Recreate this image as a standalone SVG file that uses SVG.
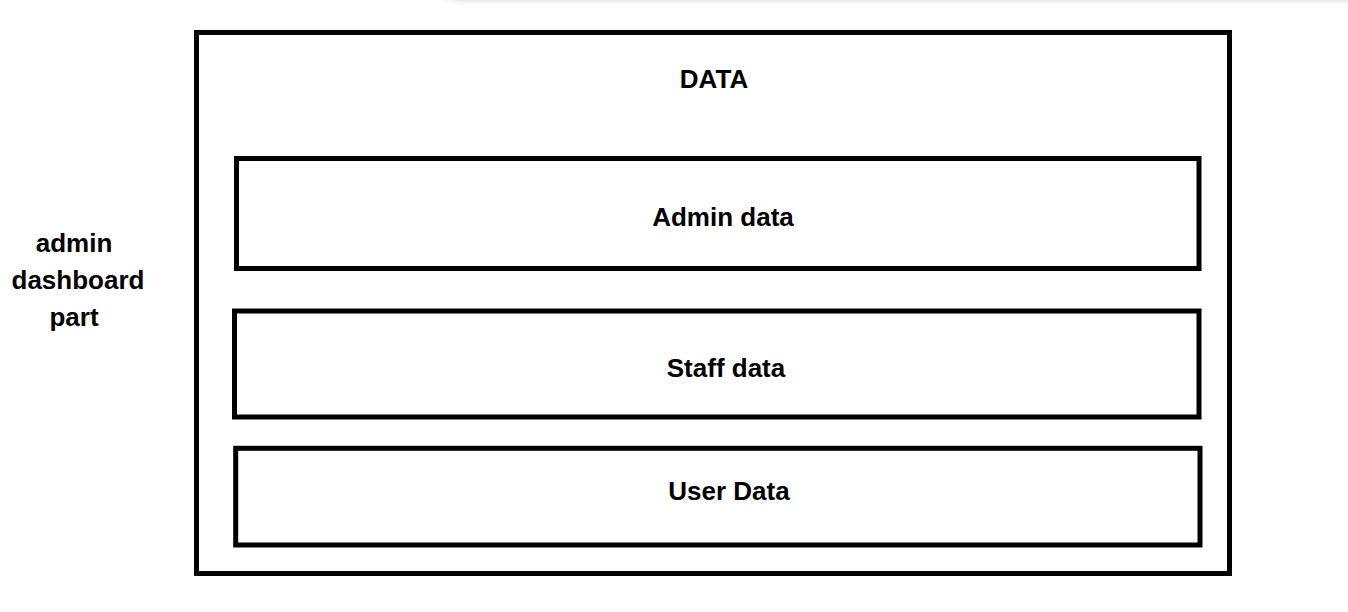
<svg xmlns="http://www.w3.org/2000/svg" width="1348" height="612" viewBox="0 0 1348 612">
  <defs>
    <linearGradient id="shadeV" x1="0" y1="0" x2="0" y2="1">
      <stop offset="0" stop-color="#e6e6e6"/>
      <stop offset="1" stop-color="#ffffff" stop-opacity="0"/>
    </linearGradient>
    <linearGradient id="shadeH" x1="0" y1="0" x2="1" y2="0">
      <stop offset="0" stop-color="#ffffff" stop-opacity="1"/>
      <stop offset="1" stop-color="#ffffff" stop-opacity="0"/>
    </linearGradient>
  </defs>
  <style>
    .box { fill: none; stroke: #000; stroke-width: 5; }
    .lbl { font-family: "Liberation Sans", Arial, sans-serif; font-weight: bold; font-size: 26px; fill: #000; text-anchor: middle; }
  </style>
  <rect x="0" y="0" width="1348" height="612" fill="#ffffff"/>
  <rect x="440" y="0" width="908" height="7" fill="url(#shadeV)"/>
  <rect x="440" y="0" width="20" height="7" fill="url(#shadeH)"/>

  <g id="side-label">
    <text class="lbl" x="74" y="252">admin</text>
    <text class="lbl" x="78" y="289">dashboard</text>
    <text class="lbl" x="74" y="326">part</text>
  </g>

  <g id="data">
    <rect class="box" x="196.5" y="32.5" width="1033" height="541"/>
    <text class="lbl" x="714" y="88">DATA</text>
  </g>

  <g id="admin-data">
    <rect class="box" x="236.5" y="158.5" width="962.5" height="110"/>
    <text class="lbl" x="723" y="226">Admin data</text>
  </g>

  <g id="staff-data">
    <rect class="box" x="234.5" y="311" width="964.5" height="106"/>
    <text class="lbl" x="726" y="377">Staff data</text>
  </g>

  <g id="user-data">
    <rect class="box" x="235.7" y="448.3" width="964.3" height="96.7"/>
    <text class="lbl" x="729" y="500">User Data</text>
  </g>

  <g id="connectors"></g>
</svg>
